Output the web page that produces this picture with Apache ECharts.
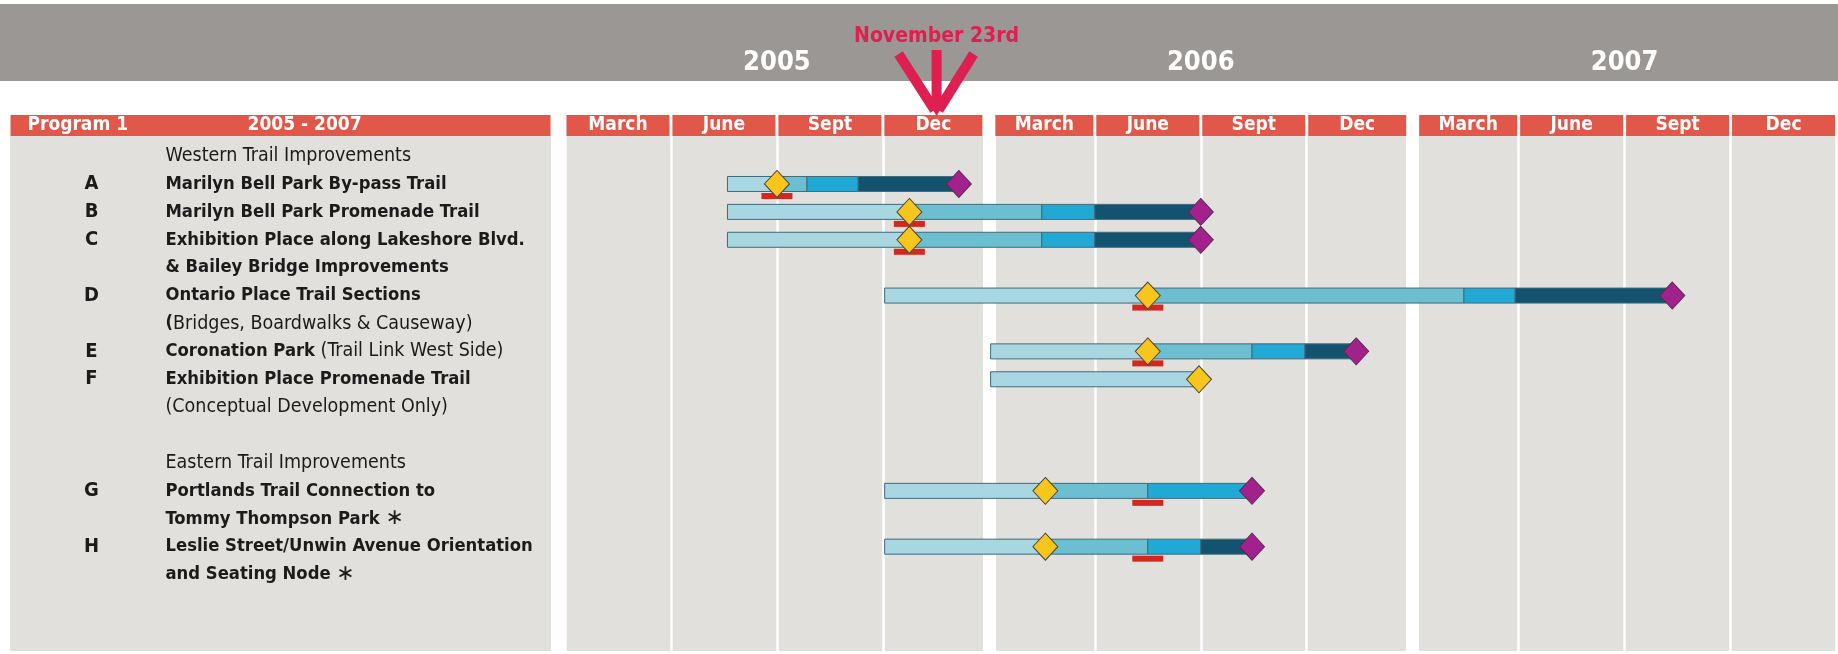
<!DOCTYPE html>
<html><head><meta charset="utf-8">
<script src="https://cdn.jsdelivr.net/npm/echarts@6/dist/echarts.min.js"></script>
<style>html,body{margin:0;padding:0;background:#fff}#c{width:1838px;height:654px}</style>
</head><body><div id="c"></div>
<script>
const FONT = '"Liberation Sans Narrow","DejaVu Sans Condensed","Arial Narrow",sans-serif';

// ---------------- data ----------------
const yearLabels = ['2005', '2006', '2007'];
const monthLabels = ['March','June','Sept','Dec','March','June','Sept','Dec','March','June','Sept','Dec'];
const programTitle = 'Program 1';
const programPeriod = '2005 - 2007';
const todayLabel = 'November 23rd';
const todayMonth = 10.52;            // months since start of 2005
const yearBoundaries = [12, 24];     // months

// left panel lines (row index = position in list)
const rowLetters = ['', 'A', 'B', 'C', '', 'D', '', 'E', 'F', '', '', '', 'G', '', 'H', ''];
const rowText = [
  [['r', 'Western Trail Improvements']],
  [['b', 'Marilyn Bell Park By-pass Trail']],
  [['b', 'Marilyn Bell Park Promenade Trail']],
  [['b', 'Exhibition Place along Lakeshore Blvd.']],
  [['b', '& Bailey Bridge Improvements']],
  [['b', 'Ontario Place Trail Sections']],
  [['b', '('], ['r', 'Bridges, Boardwalks & Causeway)']],
  [['b', 'Coronation Park'], ['r', ' (Trail Link West Side)']],
  [['b', 'Exhibition Place Promenade Trail']],
  [['r', '(Conceptual Development Only)']],
  [],
  [['r', 'Eastern Trail Improvements']],
  [['b', 'Portlands Trail Connection to']],
  [['b', 'Tommy Thompson Park '], ['s', '\u2217']],
  [['b', 'Leslie Street/Unwin Avenue Orientation']],
  [['b', 'and Seating Node '], ['s', '\u2217']]
];

// tasks (months since Jan 2005)
const taskRow        = [1, 2, 3, 5, 7, 8, 12, 14];
const taskStart      = [4.6, 4.6, 4.6, 9.05, 12.05, 12.05, 9.05, 9.05];
const taskMilestone  = [6.0, 9.75, 9.75, 16.5, 16.5, 17.95, 13.6, 13.6];
const taskPhase2End  = [6.85, 13.5, 13.5, 25.45, 19.45, null, 16.5, 16.5];
const taskPhase3End  = [8.3, 15.0, 15.0, 26.9, 20.95, null, 19.45, 18.0];
const taskEnd        = [11.15, 18.0, 18.0, 31.35, 22.4, 17.95, 19.45, 19.45];
const taskCompletion = [11.15, 18.0, 18.0, 31.35, 22.4, null, 19.45, 19.45];
const taskReview     = [6.0, 9.75, 9.75, 16.5, 16.5, null, 16.5, 16.5];

// ---------------- build ----------------
const phaseColors = ['#a9d7e1', '#6cbfd0', '#22a8d5', '#13536f'];
const segments = [];
taskRow.forEach((row, i) => {
  const pts = [taskStart[i], taskMilestone[i], taskPhase2End[i], taskPhase3End[i], taskEnd[i]];
  let prev = pts[0];
  for (let k = 1; k < pts.length; k++) {
    if (pts[k] == null) continue;
    if (pts[k] > prev) segments.push([row, prev, pts[k], k - 1]);
    prev = pts[k];
  }
});
const pairs = (arr) => taskRow.map((r, i) => arr[i] == null ? null : [arr[i], r]).filter(Boolean);

const RED = '#e1574a';
const BG = '#e1e0dd';
const TXT = '#1c1a1a';
const Y_MIN = -0.72, Y_MAX = 17.74;

const chart = echarts.init(document.getElementById('c'), null, {renderer: 'canvas'});

const hdrBase = {height: 21, lineHeight: 21, align: 'center', color: '#fff', fontWeight: 'bold',
  fontSize: 19, fontFamily: FONT, backgroundColor: RED, verticalAlign: 'middle'};

chart.setOption({
  animation: false,
  grid: [
    {left: 565, right: 0, top: 136, bottom: 3, show: true, backgroundColor: BG, borderWidth: 0},
    {left: 10, width: 541, top: 136, bottom: 3, show: true, backgroundColor: BG, borderWidth: 0}
  ],
  xAxis: [
    {gridIndex: 0, type: 'value', min: 0, max: 36, interval: 3, position: 'bottom',
      axisLine: {show: false}, axisTick: {show: false}, axisLabel: {show: false},
      splitLine: {show: true, lineStyle: {color: '#ffffff', width: 2.5}}},
    {gridIndex: 0, type: 'category', data: monthLabels, position: 'top', offset: 0,
      axisLine: {show: false}, axisTick: {show: false}, splitLine: {show: false},
      axisLabel: {interval: 0, margin: 0,
        formatter: (v, i) => {
          if (i % 4 === 3 && i < 11) return '{d|' + v + '}{sp| }';
          if (i % 4 === 0 && i > 0) return '{sp| }{d|' + v + '}';
          return '{m|' + v + '}';
        },
        rich: {m: Object.assign({}, hdrBase, {width: 103}), d: Object.assign({}, hdrBase, {width: 98}),
          sp: {width: 5, height: 21, fontSize: 10}}}},
    {gridIndex: 0, type: 'category', data: yearLabels, position: 'top', offset: 0,
      axisLine: {show: false}, axisTick: {show: false}, splitLine: {show: false},
      axisLabel: {interval: 0, margin: 60, color: '#fff', fontSize: 27, fontWeight: 'bold', fontFamily: FONT}},
    {gridIndex: 1, type: 'value', min: 0, max: 1, show: false},
    {gridIndex: 1, type: 'category', data: [programTitle], position: 'top', offset: 0,
      axisLine: {show: false}, axisTick: {show: false}, splitLine: {show: false},
      axisLabel: {interval: 0, margin: 0, backgroundColor: RED, padding: [0, 0, 0, 17],
        formatter: (v) => '{p|' + v + '}{y|' + programPeriod + '}',
        rich: {p: Object.assign({}, hdrBase, {width: 220, align: 'left', backgroundColor: 'transparent'}),
               y: Object.assign({}, hdrBase, {width: 303, align: 'left', backgroundColor: 'transparent'})}}}
  ],
  yAxis: [
    {gridIndex: 0, type: 'value', inverse: true, min: Y_MIN, max: Y_MAX, show: false},
    {gridIndex: 1, type: 'value', inverse: true, min: Y_MIN, max: Y_MAX, show: false}
  ],
  series: [
    {type: 'line', xAxisIndex: 0, yAxisIndex: 0, data: [], z: 1, silent: true,
      markLine: {silent: true, z: 1, symbol: ['none', 'none'], label: {show: false},
        emphasis: {disabled: true},
        lineStyle: {color: '#ffffff', width: 13, type: 'solid', opacity: 1},
        data: yearBoundaries.map(v => ({xAxis: v}))}},
    {type: 'custom', xAxisIndex: 0, yAxisIndex: 0, z: 2, data: segments,
      encode: {x: [1, 2], y: 0},
      renderItem: (params, api) => {
        const row = api.value(0);
        const p0 = api.coord([api.value(1), row]);
        const p1 = api.coord([api.value(2), row]);
        const h = 15;
        return {type: 'rect', shape: {x: p0[0], y: p0[1] - h / 2, width: p1[0] - p0[0], height: h},
          style: {fill: phaseColors[api.value(3)], stroke: '#3f6b7b', lineWidth: 1}};
      }},
    {type: 'scatter', name: 'review', xAxisIndex: 0, yAxisIndex: 0, z: 3, data: pairs(taskReview),
      symbol: 'rect', symbolSize: [31, 6], symbolOffset: [0, 12],
      itemStyle: {color: '#d4281f', opacity: 1}},
    {type: 'scatter', name: 'milestone', xAxisIndex: 0, yAxisIndex: 0, z: 4, data: pairs(taskMilestone),
      symbol: 'diamond', symbolSize: [25, 27],
      itemStyle: {color: '#f8c51c', borderColor: '#4a4636', borderWidth: 1, opacity: 1}},
    {type: 'scatter', name: 'completion', xAxisIndex: 0, yAxisIndex: 0, z: 4, data: pairs(taskCompletion),
      symbol: 'diamond', symbolSize: [25, 27],
      itemStyle: {color: '#a3218c', borderColor: '#5b2a55', borderWidth: 1, opacity: 1}},
    {type: 'scatter', name: 'rows', xAxisIndex: 3, yAxisIndex: 1, z: 5, silent: true,
      data: rowLetters.map((l, k) => [0, k]),
      symbolSize: 1, itemStyle: {color: 'rgba(0,0,0,0)', opacity: 1},
      label: {show: true, position: 'right', distance: 7, opacity: 1, color: TXT,
        formatter: (p) => {
          const k = p.dataIndex;
          return '{let|' + (rowLetters[k] || ' ') + '}' +
            rowText[k].map(t => '{' + t[0] + '|' + t[1] + '}').join('');
        },
        rich: {
          let: {width: 148, align: 'center', fontWeight: 'bold', fontSize: 20, color: TXT, fontFamily: FONT},
          b: {fontWeight: 'bold', fontSize: 18.3, color: TXT, fontFamily: FONT},
          r: {fontWeight: 'normal', fontSize: 19.5, color: TXT, fontFamily: FONT},
          s: {fontWeight: 'normal', fontSize: 22, color: TXT, fontFamily: '"DejaVu Sans",sans-serif'}
        }}}
  ]
});

const tipX = chart.convertToPixel({xAxisIndex: 0}, todayMonth);
const ARROW = '#df1f50';
const tipY = 116;
chart.setOption({
  graphic: [
    {id: 'band', type: 'rect', z: -1, silent: true, shape: {x: 0, y: 4, width: 1838, height: 77},
      style: {fill: '#9a9794'}},
    {id: 'today', type: 'text', z: 10, silent: true, x: tipX, y: 37,
      style: {text: todayLabel, fill: ARROW, font: 'bold 21px ' + FONT, align: 'center', verticalAlign: 'middle'}},
    {id: 'armL', type: 'line', z: 10, silent: true,
      shape: {x1: tipX - 38, y1: tipY - 62, x2: tipX - 2, y2: tipY - 6},
      style: {stroke: ARROW, lineWidth: 10, lineCap: 'butt'}},
    {id: 'armR', type: 'line', z: 10, silent: true,
      shape: {x1: tipX + 37, y1: tipY - 62, x2: tipX + 2, y2: tipY - 6},
      style: {stroke: ARROW, lineWidth: 10, lineCap: 'butt'}},
    {id: 'shaft', type: 'line', z: 10, silent: true,
      shape: {x1: tipX, y1: tipY - 66, x2: tipX, y2: tipY - 12},
      style: {stroke: ARROW, lineWidth: 10, lineCap: 'butt'}},
    {id: 'tip', type: 'polygon', z: 10, silent: true,
      shape: {points: [[tipX - 10, tipY - 17], [tipX + 10, tipY - 17], [tipX, tipY]]},
      style: {fill: ARROW}}
  ]
});
</script>
</body></html>
